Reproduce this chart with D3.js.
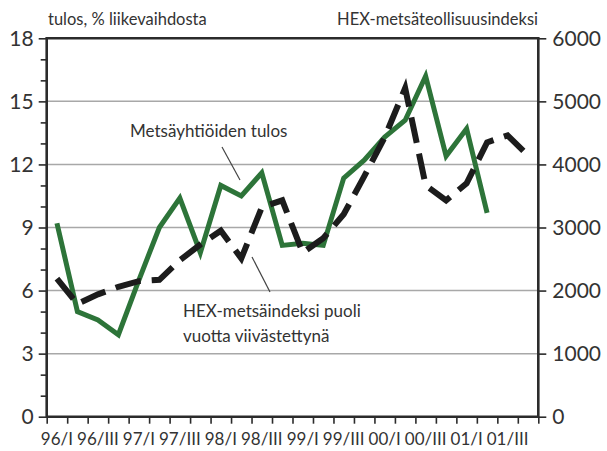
<!doctype html>
<html lang='fi'>
<head>
    <meta charset='UTF-8'>
    <title>Metsäyhtiöiden tulos ja HEX-metsäindeksi</title>
    <style>
        body{ margin: 0; background: #fff; }
        text{ font-family: Lato, 'Open Sans', sans-serif; fill: #333; }
        .axis path{ display: none; }
        .axis line{ stroke: #2b2b2b; stroke-width: 1.6px; }
        .axis text{ font-size: 21px; }
        .xlab text{ font-size: 17px; }
        .grid line{ stroke: #a8a8a8; stroke-width: 1.5px; }
        .frame{ fill: none; stroke: #2b2b2b; stroke-width: 2.6px; }
        .tulos{ fill: none; stroke: #2d7439; stroke-width: 5px; stroke-linejoin: miter; }
        .hex{ fill: none; stroke: #1c1c1c; stroke-width: 6px; stroke-dasharray: 26, 11; }
        .note{ font-size: 17px; }
        .leader{ stroke: #444; stroke-width: 1.2px; }
    </style>
</head>
<body>
<script src='https://cdn.jsdelivr.net/npm/d3@7'></script>
<script>
  // vuosineljännekset 96/I ... 01/IV
  const years = ['96', '97', '98', '99', '00', '01']
  const roman = ['I', 'II', 'III', 'IV']
  const quarters = years.flatMap(y => roman.map(r => `${y}/${r}`))

  // Metsäyhtiöiden tulos, % liikevaihdosta (96/I - 01/II)
  const tulos = [9.2, 5.0, 4.6, 3.9, 6.5, 9.0, 10.4, 7.8, 11.0, 10.5, 11.6, 8.15,
                 8.25, 8.15, 11.35, 12.2, 13.3, 14.1, 16.2, 12.4, 13.7, 9.7]

  // HEX-metsäindeksi puoli vuotta viivästettynä
  const hex = [2190, 1790, 1940, 2060, 2150, 2170, 2480, 2730, 2950, 2510, 3320, 3430,
               2600, 2830, 3210, 3810, 4430, 5210, 3670, 3430, 3700, 4350, 4460, 4140]

  const leftTicks = [0, 3, 6, 9, 12, 15, 18]
  const rightTicks = [0, 1000, 2000, 3000, 4000, 5000, 6000]
  const labelled = quarters.filter((q, i) => i % 2 === 0)

  const W = 607, H = 451
  const m = {left: 46.7, right: 538.3, top: 38.3, bottom: 416.7}

  const x = d3.scaleBand().domain(quarters).range([m.left, m.right])
  const xEdge = d3.scaleLinear().domain([0, quarters.length]).range([m.left, m.right])
  const yL = d3.scaleLinear().domain([0, 18]).range([m.bottom, m.top])
  const yR = d3.scaleLinear().domain([0, 6000]).range([m.bottom, m.top])
  const cx = q => x(q) + x.bandwidth() / 2

  const svg = d3.select('body').append('svg')
    .attr('width', W)
    .attr('height', H)

  // vaakaviivat
  svg.append('g')
    .attr('class', 'grid')
    .selectAll('line')
    .data(leftTicks.filter(d => d > 0 && d < 18))
    .join('line')
    .attr('x1', m.left).attr('x2', m.right)
    .attr('y1', d => yL(d)).attr('y2', d => yL(d))

  // pienet jakoviivat vasemmalla
  svg.append('g')
    .attr('class', 'axis')
    .attr('transform', `translate(${m.left},0)`)
    .call(d3.axisLeft(yL).tickValues(d3.range(0, 19).filter(d => d % 3)).tickSize(6).tickFormat(''))

  svg.append('g')
    .attr('class', 'axis')
    .attr('transform', `translate(${m.left},0)`)
    .call(d3.axisLeft(yL).tickValues(leftTicks).tickSize(8).tickPadding(5))

  svg.append('g')
    .attr('class', 'axis')
    .attr('transform', `translate(${m.right},0)`)
    .call(d3.axisRight(yR).tickValues(rightTicks).tickSize(8).tickPadding(6).tickFormat(d3.format('d')))

  svg.append('g')
    .attr('class', 'axis')
    .attr('transform', `translate(0,${m.bottom})`)
    .call(d3.axisBottom(xEdge).tickValues(d3.range(0, quarters.length + 1)).tickSize(7).tickFormat(''))

  svg.append('g')
    .attr('class', 'axis xlab')
    .attr('transform', `translate(0,${m.bottom})`)
    .call(d3.axisBottom(x).tickValues(labelled).tickSize(0).tickPadding(16))

  // kehys
  svg.append('path')
    .attr('class', 'frame')
    .attr('d', `M${m.left},${m.bottom}V${m.top}H${m.right}V${m.bottom}Z`)

  const lineL = d3.line()
    .x((d, i) => cx(quarters[i]))
    .y(d => yL(d))

  const lineR = d3.line()
    .x((d, i) => cx(quarters[i]))
    .y(d => yR(d))

  svg.append('path')
    .datum(tulos)
    .attr('class', 'tulos')
    .attr('d', lineL)

  svg.append('path')
    .datum(hex)
    .attr('class', 'hex')
    .attr('d', lineR)

  // otsikot
  svg.append('text')
    .attr('x', 48).attr('y', 25)
    .style('font-size', '16.5px')
    .text('tulos, % liikevaihdosta')

  svg.append('text')
    .attr('x', 538).attr('y', 25)
    .attr('text-anchor', 'end')
    .style('font-size', '16.5px')
    .text('HEX-metsäteollisuusindeksi')

  // selitteet
  svg.append('text')
    .attr('class', 'note')
    .attr('x', 130).attr('y', 137)
    .text('Metsäyhtiöiden tulos')

  svg.append('line')
    .attr('class', 'leader')
    .attr('x1', 222).attr('y1', 147)
    .attr('x2', 240).attr('y2', 180)

  svg.append('text')
    .attr('class', 'note')
    .attr('x', 183).attr('y', 317)
    .text('HEX-metsäindeksi puoli')

  svg.append('text')
    .attr('class', 'note')
    .attr('x', 183).attr('y', 342)
    .text('vuotta viivästettynä')

  svg.append('line')
    .attr('class', 'leader')
    .attr('x1', 252).attr('y1', 257)
    .attr('x2', 270).attr('y2', 292)
</script>
</body>
</html>
